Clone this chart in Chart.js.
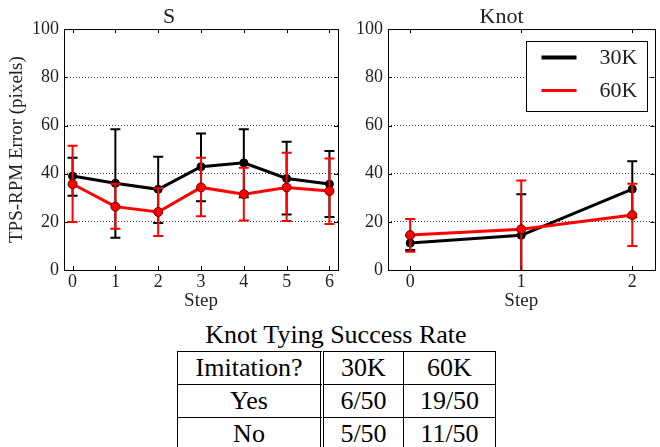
<!DOCTYPE html>
<html>
<head>
<meta charset="utf-8">
<title>TPS-RPM Error</title>
<script src="https://cdn.jsdelivr.net/npm/chart.js@4.4.0/dist/chart.umd.min.js"></script>
<style>
    body { margin: 0; background: #fff; font-family: "Liberation Serif", "DejaVu Serif", serif; }
    #page { position: relative; width: 660px; height: 447px; overflow: hidden; }
    canvas { position: absolute; top: 0; }
    #c1 { left: 0; }
    #c2 { left: 345px; }
    #tableTitle { position: absolute; left: 136px; width: 400px; top: 320px; text-align: center;
        font-size: 26px; line-height: 30px; color: #000; }
    #rates { position: absolute; left: 177px; top: 351px; border-collapse: separate; border-spacing: 0;
        font-size: 26px; color: #000; }
    #rates td { padding: 0; height: 32px; line-height: 32px; text-align: center;
        border-right: 1px solid #000; border-bottom: 1px solid #000; }
    #rates tr:first-child td { border-top: 1px solid #000; }
    #rates td:first-child { border-left: 1px solid #000; border-right: 4px double #000; width: 142px; }
    #rates td.c2 { width: 79px; }
    #rates td.c3 { width: 91px; }
</style>
</head>
<body>
<div id="page">
    <canvas id="c1" width="345" height="312"></canvas>
    <canvas id="c2" width="315" height="312"></canvas>
    <div id="tableTitle">Knot Tying Success Rate</div>
    <table id="rates"></table>
</div>

<script>
    // S task
    const sSteps = [0, 1, 2, 3, 4, 5, 6];
    const s30K = [39.0, 36.0, 33.5, 42.9, 44.5, 38.0, 35.7];
    const s30KLow = [30.8, 13.4, 19.5, 28.6, 30.2, 23.1, 22.0];
    const s30KHigh = [46.6, 58.5, 47.0, 56.7, 58.5, 53.3, 49.4];
    const s60K = [35.7, 26.3, 24.1, 34.3, 31.5, 34.3, 32.8];
    const s60KLow = [19.9, 17.1, 14.1, 22.3, 20.6, 20.3, 19.1];
    const s60KHigh = [51.6, 35.8, 33.9, 46.6, 42.5, 48.7, 46.3];

    // Knot task
    const kSteps = [0, 1, 2];
    const k30K = [11.2, 14.4, 33.6];
    const k30KLow = [8.3, -5, 21.9];
    const k30KHigh = [14.3, 31.5, 45.2];
    const k60K = [14.5, 16.9, 22.8];
    const k60KLow = [7.6, -5, 10.0];
    const k60KHigh = [21.2, 37.2, 35.8];

    // success rate table
    const tableHeader = ['Imitation?', '30K', '60K'];
    const tableRows = [['Yes', '6/50', '19/50'], ['No', '5/50', '11/50']];

    const FONT = '"Liberation Serif", "DejaVu Serif", serif';
    const TEXT = '#222';

    const table = document.getElementById('rates');
    [tableHeader].concat(tableRows).forEach(row => {
        const tr = document.createElement('tr');
        row.forEach((cell, i) => {
            const td = document.createElement('td');
            if (i > 0) td.className = 'c' + (i + 1);
            td.textContent = cell;
            tr.appendChild(td);
        });
        table.appendChild(tr);
    });

    // vertical error bars with caps, drawn under each dataset's own line
    const errorBars = {
        id: 'errorBars',
        beforeDatasetDraw(chart, args) {
            const ds = chart.data.datasets[args.index];
            const xs = chart.scales.x, ys = chart.scales.y, a = chart.chartArea;
            const ctx = chart.ctx;
            ctx.save();
            ctx.beginPath();
            ctx.rect(a.left, a.top, a.right - a.left, a.bottom - a.top);
            ctx.clip();
            ctx.strokeStyle = ds.borderColor;
            ctx.lineWidth = 2;
            ds.data.forEach((p, i) => {
                const px = xs.getPixelForValue(p.x);
                const lo = ys.getPixelForValue(ds.errLow[i]);
                const hi = ys.getPixelForValue(ds.errHigh[i]);
                ctx.beginPath();
                ctx.moveTo(px, lo); ctx.lineTo(px, hi);
                ctx.moveTo(px - 5, lo); ctx.lineTo(px + 5, lo);
                ctx.moveTo(px - 5, hi); ctx.lineTo(px + 5, hi);
                ctx.stroke();
            });
            ctx.restore();
        }
    };

    // box around the plot and matplotlib-style inward ticks
    const frame = {
        id: 'frame',
        afterDraw(chart) {
            const a = chart.chartArea, ctx = chart.ctx;
            ctx.save();
            ctx.strokeStyle = '#000';
            ctx.lineWidth = 1;
            ctx.strokeRect(Math.round(a.left) + 0.5, Math.round(a.top) + 0.5,
                Math.round(a.right - a.left), Math.round(a.bottom - a.top));
            ctx.beginPath();
            chart.scales.x.ticks.forEach(t => {
                const px = Math.round(chart.scales.x.getPixelForValue(t.value)) + 0.5;
                ctx.moveTo(px, a.bottom); ctx.lineTo(px, a.bottom - 4);
                ctx.moveTo(px, a.top); ctx.lineTo(px, a.top + 4);
            });
            chart.scales.y.ticks.forEach(t => {
                const py = Math.round(chart.scales.y.getPixelForValue(t.value)) + 0.5;
                ctx.moveTo(a.left, py); ctx.lineTo(a.left + 4, py);
                ctx.moveTo(a.right, py); ctx.lineTo(a.right - 4, py);
            });
            ctx.stroke();
            ctx.restore();
        }
    };

    // legend box inside the plot area
    const insideLegend = {
        id: 'insideLegend',
        afterDraw(chart) {
            const a = chart.chartArea, ctx = chart.ctx;
            const w = 121, h = 70;
            const bx = Math.round(a.right - 8 - w) + 0.5, by = Math.round(a.top + 12) + 0.5;
            ctx.save();
            ctx.fillStyle = '#fff';
            ctx.fillRect(bx, by, w, h);
            ctx.strokeStyle = '#000';
            ctx.lineWidth = 1;
            ctx.strokeRect(bx, by, w, h);
            ctx.font = '22px ' + FONT;
            ctx.textAlign = 'right';
            ctx.textBaseline = 'middle';
            chart.data.datasets.forEach((ds, i) => {
                const ly = by + 16 + i * 33;
                ctx.strokeStyle = ds.borderColor;
                ctx.lineWidth = i === 0 ? 4 : 3;
                ctx.beginPath();
                ctx.moveTo(bx + 15, ly); ctx.lineTo(bx + 50, ly);
                ctx.stroke();
                ctx.fillStyle = TEXT;
                ctx.fillText(ds.label, bx + w - 10, ly + 1);
            });
            ctx.restore();
        }
    };

    function makeDatasets(steps, v30, lo30, hi30, v60, lo60, hi60) {
        return [{
            label: '30K',
            data: steps.map((s, i) => ({x: s, y: v30[i]})),
            errLow: lo30, errHigh: hi30,
            borderColor: '#000',
            backgroundColor: '#000',
            pointBackgroundColor: '#000',
            pointBorderColor: '#000',
            borderWidth: 3,
            pointRadius: 4,
            pointBorderWidth: 1,
            tension: 0,
            order: 1
        }, {
            label: '60K',
            data: steps.map((s, i) => ({x: s, y: v60[i]})),
            errLow: lo60, errHigh: hi60,
            borderColor: '#ff0000',
            backgroundColor: '#ff0000',
            pointBackgroundColor: '#ff0000',
            pointBorderColor: '#660000',
            borderWidth: 3,
            pointRadius: 4.5,
            pointBorderWidth: 1,
            tension: 0,
            order: 0
        }];
    }

    function makeOptions(title, xMax, yWidth, yTitle, rightPad) {
        return {
            responsive: false,
            animation: false,
            layout: {padding: {top: 0, left: 0, right: rightPad, bottom: 0}},
            plugins: {
                legend: {display: false},
                tooltip: {enabled: false},
                title: {
                    display: true,
                    text: title,
                    color: TEXT,
                    font: {family: FONT, size: 22, weight: 'normal', lineHeight: 1.1},
                    padding: {top: 5, bottom: 0}
                }
            },
            scales: {
                x: {
                    type: 'linear',
                    min: -0.2,
                    max: xMax,
                    afterFit: s => { s.height = 42; },
                    grid: {display: false, drawTicks: false},
                    border: {display: false},
                    ticks: {
                        stepSize: 1,
                        includeBounds: false,
                        padding: 1,
                        color: TEXT,
                        font: {family: FONT, size: 18}
                    },
                    title: {
                        display: true,
                        text: 'Step',
                        color: TEXT,
                        font: {family: FONT, size: 19},
                        padding: {top: 0, bottom: 0}
                    }
                },
                y: {
                    min: 0,
                    max: 100,
                    afterFit: s => { s.width = yWidth; },
                    grid: {color: '#333', lineWidth: 1, drawTicks: false},
                    border: {display: false, dash: [1, 2]},
                    ticks: {
                        stepSize: 20,
                        padding: 5,
                        color: TEXT,
                        font: {family: FONT, size: 18}
                    },
                    title: {
                        display: !!yTitle,
                        text: yTitle,
                        color: TEXT,
                        font: {family: FONT, size: 19},
                        padding: {top: 6, bottom: 0}
                    }
                }
            }
        };
    }

    function draw() {
        new Chart(document.getElementById('c1'), {
            type: 'line',
            data: {datasets: makeDatasets(sSteps, s30K, s30KLow, s30KHigh, s60K, s60KLow, s60KHigh)},
            options: makeOptions('S', 6.2, 64, 'TPS-RPM Error (pixels)', 7),
            plugins: [errorBars, frame]
        });

        new Chart(document.getElementById('c2'), {
            type: 'line',
            data: {datasets: makeDatasets(kSteps, k30K, k30KLow, k30KHigh, k60K, k60KLow, k60KHigh)},
            options: makeOptions('Knot', 2.2, 43, '', 2),
            plugins: [errorBars, frame, insideLegend]
        });
    }

    // canvas text needs the serif face ready before the first draw
    document.fonts.load('18px "Liberation Serif"').then(draw, draw);
</script>
</body>
</html>
